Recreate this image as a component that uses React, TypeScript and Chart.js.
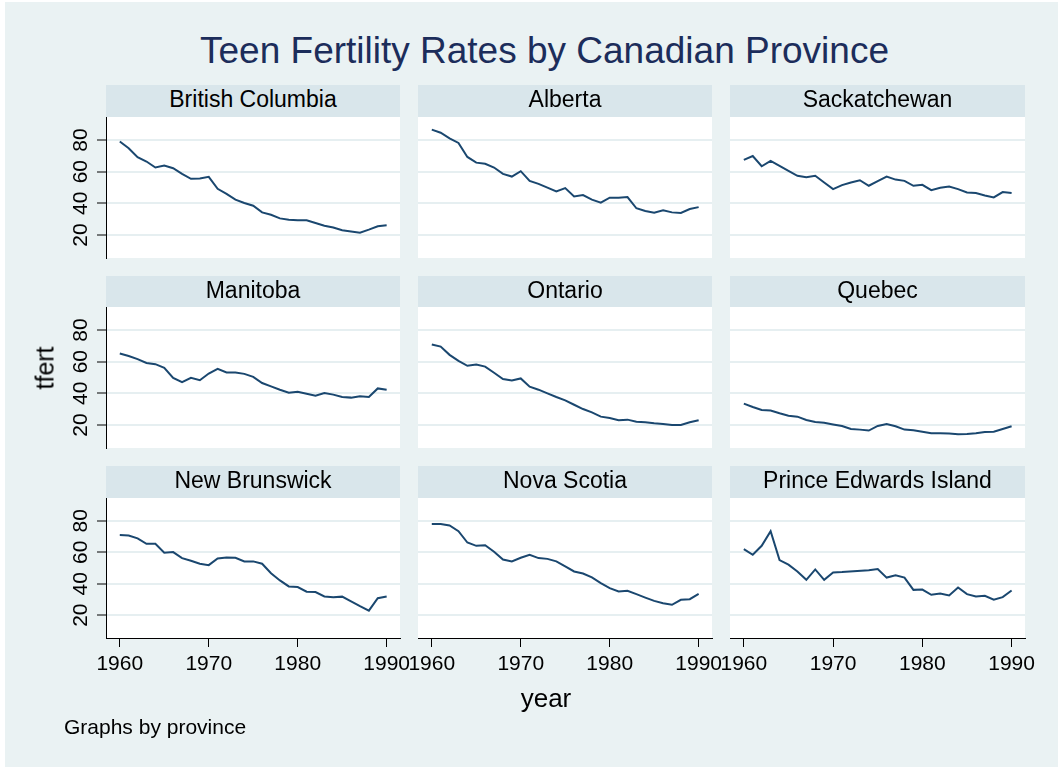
import React, { useEffect, useRef } from "react";
import { Chart, registerables } from "chart.js";

Chart.register(...registerables);

const years = [
  1960, 1961, 1962, 1963, 1964, 1965, 1966, 1967, 1968, 1969, 1970, 1971, 1972, 1973, 1974, 1975,
  1976, 1977, 1978, 1979, 1980, 1981, 1982, 1983, 1984, 1985, 1986, 1987, 1988, 1989, 1990,
];

const provinces = [
  "British Columbia", "Alberta", "Sackatchewan",
  "Manitoba", "Ontario", "Quebec",
  "New Brunswick", "Nova Scotia", "Prince Edwards Island",
];

const britishColumbia = [79.0, 74.8, 69.1, 66.4, 62.6, 63.9, 62.2, 58.6, 55.5, 55.7, 56.7, 49.2, 46.0, 42.3, 40.2, 38.5, 34.3, 32.8, 30.5, 29.7, 29.3, 29.3, 27.6, 25.9, 24.7, 23.0, 22.3, 21.5, 23.4, 25.5, 26.1];
const alberta = [86.5, 84.6, 81.0, 78.1, 69.3, 65.7, 65.0, 62.6, 58.6, 56.9, 60.3, 54.2, 52.3, 49.9, 47.5, 49.6, 44.4, 45.2, 42.3, 40.4, 43.6, 43.6, 44.0, 36.9, 35.2, 34.1, 35.6, 34.3, 33.9, 36.4, 37.6];
const sackatchewan = [67.4, 69.9, 63.4, 66.8, 63.6, 60.5, 57.4, 56.5, 57.4, 53.2, 49.0, 51.5, 53.2, 54.6, 51.1, 54.0, 56.9, 55.0, 54.2, 51.1, 51.7, 48.3, 49.8, 50.6, 49.0, 46.9, 46.5, 45.0, 43.7, 47.1, 46.5];
const manitoba = [65.1, 63.6, 61.6, 59.2, 58.4, 56.1, 49.8, 47.0, 49.8, 48.3, 52.5, 55.5, 53.2, 53.2, 52.3, 50.4, 46.5, 44.4, 42.3, 40.4, 41.0, 39.8, 38.5, 40.2, 39.2, 37.7, 37.3, 38.1, 37.7, 43.1, 42.3];
const ontario = [70.8, 69.5, 64.3, 60.5, 57.4, 58.2, 56.9, 53.0, 49.0, 48.1, 49.4, 44.2, 42.3, 40.0, 37.7, 35.6, 32.8, 30.1, 28.0, 25.3, 24.4, 23.0, 23.4, 22.1, 21.7, 21.1, 20.7, 20.0, 20.0, 21.7, 23.0];
const quebec = [33.5, 31.4, 29.5, 29.1, 27.4, 25.9, 25.3, 23.2, 21.9, 21.5, 20.4, 19.4, 17.5, 17.1, 16.5, 19.4, 20.7, 19.2, 17.1, 16.7, 15.8, 14.8, 14.8, 14.6, 14.2, 14.4, 14.8, 15.6, 15.8, 17.5, 19.2];
const newBrunswick = [70.9, 70.7, 68.8, 65.4, 65.4, 59.7, 60.1, 56.3, 54.6, 52.7, 51.8, 56.1, 56.7, 56.5, 54.2, 54.2, 52.7, 46.7, 42.1, 38.3, 37.9, 34.9, 34.7, 31.9, 31.4, 31.8, 28.8, 25.7, 22.9, 30.8, 31.9];
const novaScotia = [77.9, 77.9, 77.0, 73.4, 66.2, 64.1, 64.5, 60.3, 55.4, 54.2, 56.5, 58.4, 56.3, 55.8, 54.2, 51.0, 47.8, 46.5, 44.0, 40.4, 37.2, 35.1, 35.5, 33.4, 31.2, 29.1, 27.6, 26.6, 29.8, 30.2, 33.6];
const princeEdwardsIsland = [62.0, 58.4, 64.1, 73.4, 55.0, 52.1, 47.8, 42.5, 49.1, 42.5, 47.2, 47.4, null, null, 48.6, 49.4, 43.9, 45.3, 43.9, 36.1, 36.3, 33.0, 33.8, 32.5, 37.6, 33.4, 31.9, 32.3, 29.8, 31.5, 35.7];

const series = [
  britishColumbia, alberta, sackatchewan,
  manitoba, ontario, quebec,
  newBrunswick, novaScotia, princeEdwardsIsland,
];

const yTicks = [20, 40, 60, 80];
const xTicks = [1960, 1970, 1980, 1990];

const FONT = "'Liberation Sans', Arial, Helvetica, sans-serif";
const BG = "#EAF2F3";
const STRIP = "#D9E6EB";
const GRID = "#E6EFF1";
const LINE = "#1A476F";
const TITLE = "#1C2D5B";

const COL_LEFT = [106, 418, 730];
const COL_RIGHT = [400, 712, 1025];
const ROW_HEADER = [85, 276, 466];
const ROW_TOP = [117, 307, 498];
const ROW_BOTTOM = [258, 448, 638];

const PAD = 30;

function Panel({ index }: { index: number }) {
  const ref = useRef<HTMLCanvasElement>(null);
  const r = Math.floor(index / 3);
  const c = index % 3;
  const plotL = COL_LEFT[c];
  const plotR = COL_RIGHT[c];
  const plotT = ROW_TOP[r];
  const plotB = ROW_BOTTOM[r];
  const axisW = c === 0 ? 40 : 0;
  const axisH = r === 2 ? 45 : 0;
  const cw = plotR - plotL + 2 * PAD + axisW;
  const ch = plotB - plotT + 2 * PAD + axisH;
  const left = plotL - PAD - axisW;
  const top = plotT - PAD;
  const values = series[index];

  useEffect(() => {
    const chart = new Chart(ref.current as HTMLCanvasElement, {
      type: "line",
      data: {
        datasets: [
          {
            data: years.map((x, i) => ({ x, y: values[i] })),
            borderColor: LINE,
            borderWidth: 2,
            pointRadius: 0,
            spanGaps: true,
            tension: 0,
            fill: false,
          },
        ],
      },
      options: {
        responsive: false,
        animation: false,
        devicePixelRatio: 1,
        events: [],
        layout: { padding: PAD },
        plugins: {
          legend: { display: false },
          tooltip: { enabled: false },
          title: { display: false },
        },
        scales: {
          x: {
            type: "linear",
            min: 1958.45,
            max: 1991.5,
            display: r === 2,
            afterBuildTicks: (s: any) => {
              s.ticks = xTicks.map((v) => ({ value: v }));
            },
            afterFit: (s: any) => {
              s.height = axisH;
            },
            grid: {
              drawOnChartArea: false,
              drawTicks: true,
              tickLength: 9,
              tickColor: "#000",
              tickWidth: 1,
              lineWidth: 1,
            },
            border: { display: true, color: "#000", width: 1 },
            ticks: {
              font: { family: FONT, size: 21 },
              color: "#000",
              padding: 5,
              maxRotation: 0,
              minRotation: 0,
              autoSkip: false,
              callback: (v: any) => String(v),
            },
          },
          y: {
            type: "linear",
            min: 5.5,
            max: 94.5,
            display: true,
            afterBuildTicks: (s: any) => {
              s.ticks = yTicks.map((v) => ({ value: v }));
            },
            afterFit: (s: any) => {
              s.width = axisW;
            },
            grid: {
              color: GRID,
              lineWidth: 2,
              drawTicks: c === 0,
              tickLength: 9,
              tickColor: "#000",
              tickWidth: 1,
            },
            border: { display: c === 0, color: "#000", width: 1 },
            ticks: {
              display: c === 0,
              minRotation: 90,
              maxRotation: 90,
              crossAlign: "center",
              padding: 4,
              autoSkip: false,
              font: { family: FONT, size: 21 },
              color: "#000",
              callback: (v: any) => String(v),
            },
          },
        },
      } as any,
    });
    return () => chart.destroy();
  }, []);

  return (
    <>
      <div
        style={{
          position: "absolute",
          left: plotL,
          top: ROW_HEADER[r],
          width: plotR - plotL,
          height: plotT - ROW_HEADER[r],
          background: STRIP,
        }}
      >
        <div
          style={{
            position: "absolute",
            left: 0,
            right: 0,
            top: 3,
            textAlign: "center",
            fontFamily: FONT,
            fontSize: 23,
            lineHeight: "23px",
            color: "#000",
            whiteSpace: "nowrap",
          }}
        >
          {provinces[index]}
        </div>
      </div>
      <div
        style={{
          position: "absolute",
          left: plotL,
          top: plotT,
          width: plotR - plotL,
          height: plotB - plotT,
          background: "#fff",
        }}
      />
      <canvas
        ref={ref}
        width={cw}
        height={ch}
        style={{ position: "absolute", left, top, width: cw, height: ch }}
      />
    </>
  );
}

export default function App() {
  return (
    <div
      style={{
        position: "absolute",
        left: 0,
        top: 0,
        width: 1061,
        height: 769,
        background: "#fff",
        overflow: "hidden",
      }}
    >
      <div
        style={{
          position: "absolute",
          left: 5,
          top: 2,
          width: 1053,
          height: 765,
          background: BG,
        }}
      />
      <div
        style={{
          position: "absolute",
          left: 0,
          width: 1089,
          top: 32,
          textAlign: "center",
          fontFamily: FONT,
          fontSize: 37,
          lineHeight: "37px",
          color: TITLE,
          whiteSpace: "nowrap",
        }}
      >
        Teen Fertility Rates by Canadian Province
      </div>
      {provinces.map((_, i) => (
        <Panel key={i} index={i} />
      ))}
      <div
        style={{
          position: "absolute",
          left: 45,
          top: 368,
          transform: "translate(-50%, -50%) rotate(-90deg)",
          fontFamily: FONT,
          fontSize: 25,
          lineHeight: "25px",
          color: "#000",
          whiteSpace: "nowrap",
        }}
      >
        tfert
      </div>
      <div
        style={{
          position: "absolute",
          left: 446,
          width: 200,
          top: 685,
          textAlign: "center",
          fontFamily: FONT,
          fontSize: 26,
          lineHeight: "26px",
          color: "#000",
        }}
      >
        year
      </div>
      <div
        style={{
          position: "absolute",
          left: 64,
          top: 716,
          fontFamily: FONT,
          fontSize: 21,
          lineHeight: "21px",
          color: "#000",
          whiteSpace: "nowrap",
        }}
      >
        Graphs by province
      </div>
    </div>
  );
}
